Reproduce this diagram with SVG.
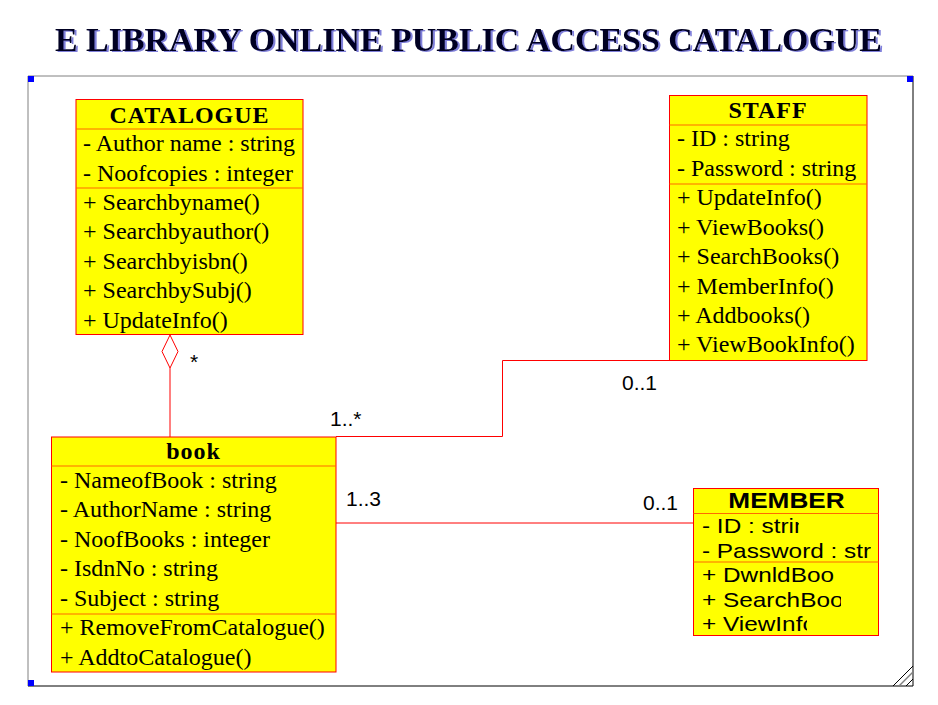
<svg xmlns="http://www.w3.org/2000/svg" width="938" height="705" viewBox="0 0 938 705">
<style>
.box{fill:#ffff00;stroke:#ff0000;stroke-width:1}
.div{stroke:#ff6a00;stroke-width:1.2}
.ser{font-family:"Liberation Serif","Times New Roman",serif;font-size:24px;fill:#000}
.hdr{font-family:"Liberation Serif","Times New Roman",serif;font-size:24px;font-weight:bold;fill:#000;text-anchor:middle;letter-spacing:1px}
.san{font-family:"Liberation Sans",Arial,sans-serif;font-size:21px;fill:#000}
.conn{fill:none;stroke:#ff0000;stroke-width:1}
.lbl{font-family:"Liberation Sans",Arial,sans-serif;font-size:21px;fill:#000}
</style>
<defs>
<filter id="sh" x="-5%" y="-20%" width="110%" height="150%">
<feDropShadow dx="2" dy="1" stdDeviation="0.4" flood-color="#6060d0" flood-opacity="0.8"/>
</filter>
<clipPath id="c1"><rect x="690" y="510" width="109" height="30"/></clipPath>
<clipPath id="c2"><rect x="690" y="536" width="181" height="26"/></clipPath>
<clipPath id="c3"><rect x="690" y="562" width="146" height="26"/></clipPath>
<clipPath id="c4"><rect x="690" y="587" width="151" height="26"/></clipPath>
<clipPath id="c5"><rect x="690" y="611" width="117" height="24"/></clipPath>
</defs>
<rect width="938" height="705" fill="#fff"/>
<g id="title">
<text x="468.5" y="51" text-anchor="middle" font-family="'Liberation Serif','Times New Roman',serif" font-weight="bold" font-size="33" fill="#000022" textLength="827" lengthAdjust="spacingAndGlyphs" filter="url(#sh)">E LIBRARY ONLINE PUBLIC ACCESS CATALOGUE</text>
</g>
<g id="frame">
<path d="M913 76 H28 V686" fill="none" stroke="#808080" stroke-width="1"/>
<path d="M28 686 H913 V76" fill="none" stroke="#000" stroke-width="1"/>
<rect x="28" y="76" width="6" height="6" fill="#0000ff"/>
<rect x="907" y="76" width="6" height="6" fill="#0000ff"/>
<rect x="28" y="680" width="6" height="6" fill="#0000ff"/>
<line x1="893" y1="686" x2="913" y2="666" stroke="#000" stroke-width="1"/>
<line x1="899" y1="686" x2="913" y2="672" stroke="#808080" stroke-width="1.5"/>
<line x1="906" y1="686" x2="913" y2="679" stroke="#000" stroke-width="1"/>
</g>
<g id="connectors">
<path class="conn" d="M170 368 V437"/>
<path d="M170 335 L178 351.5 L170 368 L162 351.5 Z" fill="#fff" stroke="#ff0000" stroke-width="1"/>
<path class="conn" d="M336 436.5 H502.5 V360.5 H669"/>
<path class="conn" d="M336 523 H694"/>
<text class="lbl" x="190" y="369">*</text>
<text class="lbl" x="330" y="426">1..*</text>
<text class="lbl" x="622" y="390">0..1</text>
<text class="lbl" x="346" y="506">1..3</text>
<text class="lbl" x="643" y="510">0..1</text>
</g>
<g id="catalogue">
<rect class="box" x="76" y="99.5" width="227" height="235"/>
<line class="div" x1="76" y1="129" x2="303" y2="129"/>
<line class="div" x1="76" y1="188" x2="303" y2="188"/>
<text class="hdr" x="189.5" y="123">CATALOGUE</text>
<text class="ser" x="83" y="151">- Author name : string</text>
<text class="ser" x="83" y="180.5">- Noofcopies : integer</text>
<text class="ser" x="83" y="209.5">+ Searchbyname()</text>
<text class="ser" x="83" y="239">+ Searchbyauthor()</text>
<text class="ser" x="83" y="268.5">+ Searchbyisbn()</text>
<text class="ser" x="83" y="298">+ SearchbySubj()</text>
<text class="ser" x="83" y="327.5">+ UpdateInfo()</text>
</g>
<g id="staff">
<rect class="box" x="669.5" y="95.5" width="197.5" height="265"/>
<line class="div" x1="669.5" y1="125" x2="867" y2="125"/>
<line class="div" x1="669.5" y1="184" x2="867" y2="184"/>
<text class="hdr" x="768" y="118">STAFF</text>
<text class="ser" x="677" y="146">- ID : string</text>
<text class="ser" x="677" y="176">- Password : string</text>
<text class="ser" x="677" y="205">+ UpdateInfo()</text>
<text class="ser" x="677" y="235">+ ViewBooks()</text>
<text class="ser" x="677" y="264">+ SearchBooks()</text>
<text class="ser" x="677" y="293.5">+ MemberInfo()</text>
<text class="ser" x="677" y="323">+ Addbooks()</text>
<text class="ser" x="677" y="352">+ ViewBookInfo()</text>
</g>
<g id="book">
<rect class="box" x="51.5" y="437" width="284.5" height="235"/>
<line class="div" x1="51.5" y1="466" x2="336" y2="466"/>
<line class="div" x1="51.5" y1="614" x2="336" y2="614"/>
<text class="hdr" x="193.5" y="459" letter-spacing="0">book</text>
<text class="ser" x="60" y="487.5">- NameofBook : string</text>
<text class="ser" x="60" y="517">- AuthorName : string</text>
<text class="ser" x="60" y="546.5">- NoofBooks : integer</text>
<text class="ser" x="60" y="576">- IsdnNo : string</text>
<text class="ser" x="60" y="605.5">- Subject : string</text>
<text class="ser" x="60" y="635">+ RemoveFromCatalogue()</text>
<text class="ser" x="60" y="664.5">+ AddtoCatalogue()</text>
</g>
<g id="member">
<rect class="box" x="693.5" y="488.5" width="185" height="147"/>
<line class="div" x1="693.5" y1="513.5" x2="878.5" y2="513.5"/>
<line class="div" x1="693.5" y1="562" x2="878.5" y2="562"/>
<text font-family="'Liberation Sans',Arial,sans-serif" font-weight="bold" font-size="22" fill="#000" text-anchor="middle" transform="translate(786.5,508) scale(1.19,1)">MEMBER</text>
<g clip-path="url(#c1)"><text class="san" transform="translate(702,533) scale(1.16,1)">- ID : strin</text></g>
<g clip-path="url(#c2)"><text class="san" transform="translate(702,558) scale(1.16,1)">- Password : str</text></g>
<g clip-path="url(#c3)"><text class="san" transform="translate(702,582) scale(1.16,1)">+ DwnldBoo</text></g>
<g clip-path="url(#c4)"><text class="san" transform="translate(702,607) scale(1.16,1)">+ SearchBoo</text></g>
<g clip-path="url(#c5)"><text class="san" transform="translate(702,631) scale(1.16,1)">+ ViewInfo</text></g>
</g>
</svg>
